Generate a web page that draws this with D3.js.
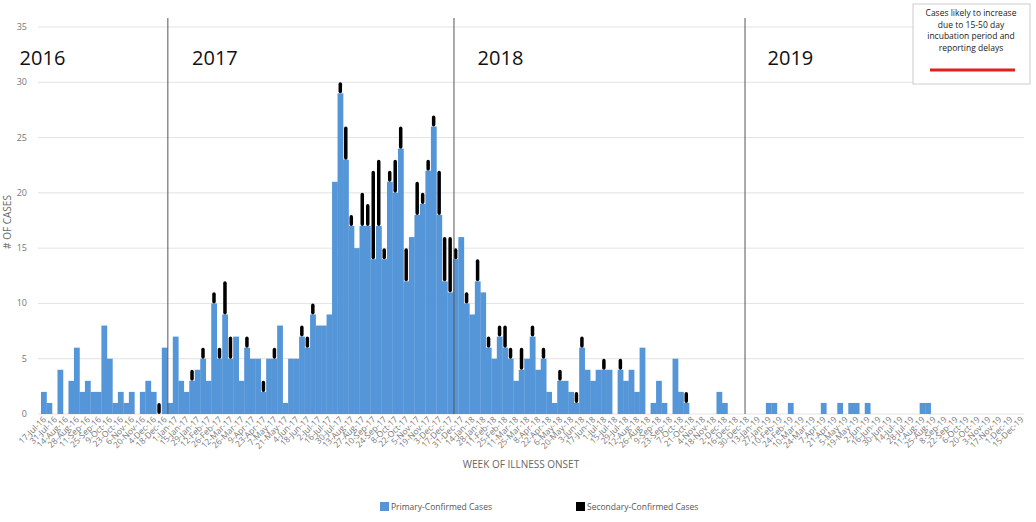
<!DOCTYPE html>
<html><head><meta charset="utf-8">
<script src="https://cdn.jsdelivr.net/npm/d3@7"></script>
<style>body{margin:0;background:#fff;font-family:"Open Sans",sans-serif}</style>
</head><body><svg id="c" width="1036" height="522"></svg>
<script>
const startDate = new Date(2016, 6, 17);
const nWeeks = 179;
const primaryNonZero = {0:2,1:1,3:4,5:3,6:6,7:2,8:3,9:2,10:2,11:8,12:5,13:1,14:2,15:1,16:2,18:2,19:3,20:2,22:6,23:1,24:7,25:3,26:2,27:3,28:4,29:5,30:3,31:10,32:5,33:9,34:5,35:7,36:3,37:6,38:5,39:5,40:2,41:5,42:5,43:8,44:1,45:5,46:5,47:7,48:6,49:9,50:8,51:8,52:9,53:21,54:29,55:23,56:17,57:15,58:17,59:17,60:14,61:17,62:14,63:21,64:20,65:24,66:12,67:16,68:18,69:19,70:22,71:26,72:18,73:12,74:11,75:14,76:16,77:10,78:9,79:12,80:11,81:6,82:5,83:7,84:6,85:5,86:3,87:4,88:5,89:7,90:4,91:5,92:2,93:1,94:3,95:3,96:2,97:1,98:6,99:4,100:3,101:4,102:4,103:4,105:4,106:3,107:4,108:2,109:6,111:1,112:3,113:1,115:5,116:2,117:1,123:2,124:1,132:1,133:1,136:1,142:1,145:1,147:1,148:1,150:1,160:1,161:1};
const secondaryNonZero = {21:1,27:1,29:1,31:1,32:1,33:3,34:2,37:1,40:1,42:1,47:1,48:1,49:1,54:1,55:3,56:1,58:3,59:2,60:8,61:6,62:1,63:1,64:3,65:2,66:3,68:3,69:1,70:1,71:1,72:4,73:4,74:5,75:1,77:1,79:2,81:1,83:1,84:2,85:1,87:2,89:1,91:1,94:1,97:1,98:1,102:1,105:1,117:1};
const yTicks = [0,5,10,15,20,25,30,35];
const years = ["2016","2017","2018","2019"];
const yearWeeks = [-3.9, 27.5, 79.5, 132.3];
const dividerWeeks = [23.1, 75.2, 128.2];
const legendLabels = ["Primary-Confirmed Cases","Secondary-Confirmed Cases"];
const noteLines = ["Cases likely to increase","due to 15-50 day","incubation period and","reporting delays"];

const weeks = d3.range(nWeeks).map(i => d3.timeDay.offset(startDate, i*7));
const primary = weeks.map((d,i) => primaryNonZero[i] || 0);
const secondary = weeks.map((d,i) => secondaryNonZero[i] || 0);
const fmt = d3.timeFormat("%-d-%b-%y");

const svg = d3.select("#c");
const x = d3.scaleBand().domain(d3.range(nWeeks)).range([41,1024]).padding(0);
const xl = d3.scaleLinear().domain([0,nWeeks]).range([41,1024]);
const y = d3.scaleLinear().domain([0,35]).range([414,27]);
const blue = "#5596d8";

svg.append("g").selectAll("line").data(yTicks).join("line")
  .attr("x1",38).attr("x2",1024).attr("y1",d=>y(d)).attr("y2",d=>y(d))
  .attr("stroke","#e3e3e3").attr("stroke-width",1);
svg.append("g").selectAll("text").data(yTicks).join("text")
  .attr("x",27).attr("y",d=>y(d)+3).attr("text-anchor","end")
  .attr("font-size",9).attr("fill","#777").text(d=>d);

svg.append("g").selectAll("rect").data(primary).join("rect")
  .attr("x",(d,i)=>x(i)).attr("width",x.bandwidth()+0.3)
  .attr("y",d=>y(d)).attr("height",d=>y(0)-y(d)).attr("fill",blue);
svg.append("g").selectAll("rect").data(secondary.map((s,i)=>({s,i,p:primary[i]})).filter(d=>d.s>0)).join("rect")
  .attr("x",d=>x(d.i)+x.bandwidth()*0.18).attr("width",x.bandwidth()*0.64)
  .attr("y",d=>y(d.p+d.s)).attr("height",d=>y(d.p)-y(d.p+d.s))
  .attr("rx",2).attr("fill","#000");

svg.append("g").selectAll("line").data(dividerWeeks).join("line")
  .attr("x1",d=>xl(d)).attr("x2",d=>xl(d)).attr("y1",18).attr("y2",414)
  .attr("stroke","#555").attr("stroke-width",1);
svg.append("g").selectAll("text").data(years).join("text")
  .attr("x",(d,i)=>xl(yearWeeks[i])).attr("y",65).attr("font-size",20)
  .attr("fill","#111").text(d=>d);

svg.append("g").selectAll("text").data(weeks.filter((d,i)=>i%2===0)).join("text")
  .attr("transform",(d,i)=>`translate(${x(i*2)+x.bandwidth()/2+3},${420}) rotate(-45)`)
  .attr("text-anchor","end").attr("font-size",8.5).attr("fill","#777").text(d=>fmt(d));

svg.append("text").attr("transform","translate(11,222) rotate(-90)")
  .attr("text-anchor","middle").attr("font-size",10).attr("fill","#666").text("# OF CASES");
svg.append("text").attr("x",521).attr("y",468).attr("text-anchor","middle")
  .attr("font-size",10).attr("fill","#666").text("WEEK OF ILLNESS ONSET");

const lg = svg.append("g").selectAll("g").data(legendLabels).join("g")
  .attr("transform",(d,i)=>`translate(${i?576:380},502)`);
lg.append("rect").attr("width",9).attr("height",9).attr("fill",(d,i)=>i?"#000":blue);
lg.append("text").attr("x",11).attr("y",8).attr("font-size",8.5).attr("fill","#555").text(d=>d);

const note = svg.append("g");
note.append("rect").attr("x",913).attr("y",4).attr("width",117).attr("height",80)
  .attr("fill","#fff").attr("stroke","#ccc");
note.selectAll("text").data(noteLines).join("text")
  .attr("x",971).attr("y",(d,i)=>16+i*11.5).attr("text-anchor","middle")
  .attr("font-size",8.5).attr("fill","#222").text(d=>d);
note.append("line").attr("x1",930).attr("x2",1015).attr("y1",70).attr("y2",70)
  .attr("stroke","#e0201b").attr("stroke-width",3);
</script></body></html>
